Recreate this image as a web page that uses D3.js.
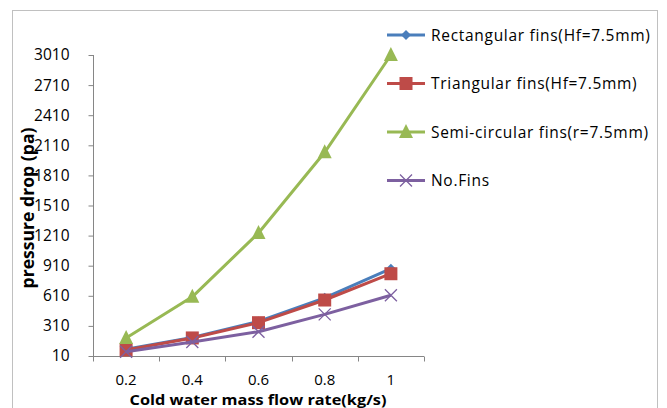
<!DOCTYPE html>
<html>
<head>
<meta charset="utf-8">
<script src="https://cdn.jsdelivr.net/npm/d3@7"></script>
<style>
  body { margin: 0; background: #fff; }
  text { font-family: "Open Sans", "Liberation Sans", sans-serif; fill: #000; }
</style>
</head>
<body>
<div id="chart"></div>
<script>
// data
const categories = ["0.2", "0.4", "0.6", "0.8", "1"];
const rectangular = [78, 195, 355, 590, 880];
const triangular = [70, 190, 342, 568, 830];
const semiCircular = [190, 600, 1236, 2040, 3010];
const noFins = [53, 150, 252, 425, 615];
const yTicks = [10, 310, 610, 910, 1210, 1510, 1810, 2110, 2410, 2710, 3010];

const series = [
    { name: "Rectangular fins(Hf=7.5mm)", values: rectangular, color: "#4a7ebb", marker: "diamond" },
    { name: "Triangular fins(Hf=7.5mm)", values: triangular, color: "#be4b48", marker: "square" },
    { name: "Semi-circular fins(r=7.5mm)", values: semiCircular, color: "#98b954", marker: "triangle" },
    { name: "No.Fins", values: noFins, color: "#7d60a0", marker: "cross" }
];

const width = 667, height = 408;
const svg = d3.select("#chart").append("svg")
    .attr("width", width)
    .attr("height", height);

// outer frame
svg.append("rect")
    .attr("x", 12.5).attr("y", 10.5)
    .attr("width", 645).attr("height", 410)
    .attr("fill", "none").attr("stroke", "#c0c0c0");

const x = d3.scaleBand().domain(categories).range([93, 424]);
const y = d3.scaleLinear().domain([10, 3010]).range([356, 55]);

// y axis
const yAxis = svg.append("g")
    .attr("transform", "translate(93.5,0)")
    .call(d3.axisLeft(y).tickValues(yTicks).tickFormat(d3.format("d")).tickSize(5).tickPadding(19));
yAxis.select(".domain").attr("stroke", "#868686").attr("d", `M0,${y(3010)}V${y(10)}`);
yAxis.selectAll(".tick line").attr("stroke", "#868686");
yAxis.selectAll(".tick text").attr("font-size", 15.5).attr("font-family", "'Open Sans', sans-serif").attr("fill", "#000");

// x axis, ticks between categories
const xAxis = svg.append("g").attr("transform", "translate(0,356.5)");
xAxis.append("line")
    .attr("x1", 93).attr("x2", 424)
    .attr("stroke", "#868686");
const bounds = categories.map(c => x(c)).concat([x.range()[1]]);
xAxis.selectAll(".xt")
    .data(bounds)
    .enter()
    .append("line")
    .attr("x1", d => Math.round(d) + 0.5).attr("x2", d => Math.round(d) + 0.5)
    .attr("y1", 0).attr("y2", 5)
    .attr("stroke", "#868686");
xAxis.selectAll(".xl")
    .data(categories)
    .enter()
    .append("text")
    .attr("x", d => x(d) + x.bandwidth() / 2)
    .attr("y", 28)
    .attr("text-anchor", "middle")
    .attr("font-size", 15)
    .text(d => d);

// axis titles
svg.append("text")
    .attr("x", 258).attr("y", 405)
    .attr("text-anchor", "middle")
    .attr("font-size", 14.5).attr("font-weight", "bold")
    .attr("textLength", 257).attr("lengthAdjust", "spacingAndGlyphs")
    .text("Cold water mass flow rate(kg/s)");
svg.append("text")
    .attr("transform", "translate(34,208) rotate(-90)")
    .attr("text-anchor", "middle")
    .attr("font-size", 18).attr("font-weight", "bold")
    .attr("textLength", 161).attr("lengthAdjust", "spacingAndGlyphs")
    .text("pressure drop (pa)");

const cx = c => x(c) + x.bandwidth() / 2;
const line = d3.line().x((d, i) => cx(categories[i])).y(d => y(d));

function drawMarker(g, type, color) {
    if (type === "diamond") {
        g.append("path").attr("d", "M0,-5L5,0L0,5L-5,0Z").attr("fill", color);
    } else if (type === "square") {
        g.append("rect").attr("x", -6.5).attr("y", -6.5).attr("width", 13).attr("height", 13).attr("fill", color);
    } else if (type === "triangle") {
        g.append("path").attr("d", "M0,-8L7,6L-7,6Z").attr("fill", color);
    } else {
        g.append("path").attr("d", "M-6,-6L6,6M-6,6L6,-6").attr("stroke", color).attr("stroke-width", 1.3).attr("fill", "none");
    }
}

// draw series in order so later ones sit on top
series.forEach(s => {
    svg.append("path")
        .datum(s.values)
        .attr("d", line)
        .attr("fill", "none")
        .attr("stroke", s.color)
        .attr("stroke-width", 3)
        .attr("stroke-linejoin", "round");
    svg.selectAll(null)
        .data(s.values)
        .enter()
        .append("g")
        .attr("transform", (d, i) => `translate(${cx(categories[i])},${y(d)})`)
        .each(function () { drawMarker(d3.select(this), s.marker, s.color); });
});

// legend
const legend = svg.append("g");
series.forEach((s, i) => {
    const ly = 35 + i * 48.5;
    const g = legend.append("g").attr("transform", `translate(0,${ly})`);
    g.append("line")
        .attr("x1", 387).attr("x2", 425)
        .attr("stroke", s.color).attr("stroke-width", 3);
    const m = g.append("g").attr("transform", "translate(406,0)");
    drawMarker(m, s.marker, s.color);
    g.append("text")
        .attr("x", 431).attr("y", 5.5)
        .attr("font-size", 15.5)
        .attr("letter-spacing", 0.7)
        .text(s.name);
});
</script>
</body>
</html>
